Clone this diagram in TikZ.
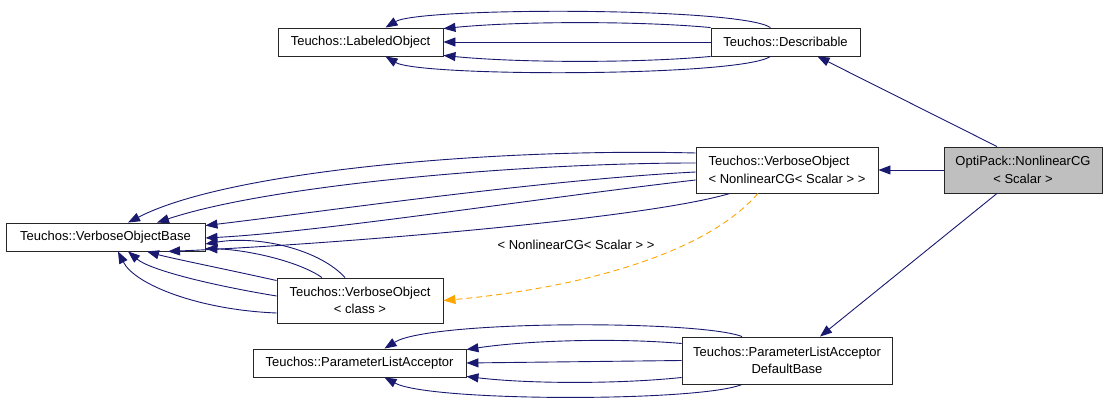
\documentclass[tikz,border=0pt]{standalone}
\usepackage{fontspec}
\setmainfont{Liberation Sans}
\usetikzlibrary{arrows.meta}

\definecolor{edgeblue}{HTML}{191970}
\definecolor{tmplorange}{HTML}{FFA500}
\definecolor{curgray}{HTML}{BFBFBF}

\begin{document}
\begin{tikzpicture}[x=1pt, y=-1pt, >={Triangle[length=12pt, width=9pt]},
  cls/.style={draw=black!85, fill=white, line width=0.9pt, inner sep=0pt, minimum height=28pt, align=center, font=\fontsize{13}{17.5}\selectfont},
  inh/.style={->, draw=edgeblue, line width=0.9pt},
  tmpl/.style={->, draw=tmplorange, line width=0.9pt, dash pattern=on 6pt off 4pt}]

\useasboundingbox (0,0) rectangle (1109,403);

% Nodes
\node (lab) [cls, minimum width=165pt] at (360.5,42) {Teuchos::LabeledObject};
\node (desc) [cls, minimum width=149pt] at (785.5,42) {Teuchos::Describable};
\node (vob) [cls, minimum width=199pt] at (105.5,237) {Teuchos::VerboseObjectBase};
\node (vonl) [cls, minimum width=182pt, minimum height=46pt, align=left] at (787,170) {Teuchos::VerboseObject\\< NonlinearCG< Scalar > >};
\node (ncg) [cls, fill=curgray, minimum width=158pt, minimum height=46pt] at (1023,170) {OptiPack::NonlinearCG\\< Scalar >};
\node (voc) [cls, minimum width=166pt, minimum height=45pt] at (360,300.5) {Teuchos::VerboseObject\\< class >};
\node (pla) [cls, minimum width=213pt] at (359.5,363) {Teuchos::ParameterListAcceptor};
\node (dfb) [cls, minimum width=210pt, minimum height=47pt] at (787,360.5) {Teuchos::ParameterListAcceptor\\DefaultBase};
\node (tlbl) [font=\fontsize{13}{15}\selectfont] at (576,245) {< NonlinearCG< Scalar > >};

% Arrows
\draw[inh] ([xshift=-15pt]desc.north) .. controls (740,7) and (420,7) .. ([xshift=25pt]lab.north);
\draw[inh] (desc.north west) .. controls (640,21) and (520,21) .. ([yshift=-1pt]lab.north east);
\draw[inh] (desc.west) -- (lab.east);
\draw[inh] (desc.south west) .. controls (640,63) and (520,63) .. ([yshift=1pt]lab.south east);
\draw[inh] ([xshift=-15pt]desc.south) .. controls (740,77) and (420,77) .. ([xshift=25pt]lab.south);

\draw[inh] ([xshift=-26pt]ncg.north) -- ([xshift=32pt]desc.south);
\draw[inh] (ncg.west) -- (vonl.east);
\draw[inh] ([xshift=-26pt]ncg.south) -- ([xshift=33pt]dfb.north);

\draw[inh] ([yshift=17pt]vonl.west) .. controls (500,148) and (230,170) .. ([xshift=22.5pt]vob.north);
\draw[inh] ([yshift=7pt]vonl.west) .. controls (520,163) and (270,185) .. ([xshift=51.5pt]vob.north);
\draw[inh] ([yshift=-2pt]vonl.west) .. controls (540,180) and (320,212) .. ([yshift=-3pt]vob.north east);
\draw[inh] ([yshift=-10pt]vonl.west) .. controls (540,198) and (320,232) .. ([yshift=-1pt]vob.east);
\draw[inh] ([xshift=-57pt]vonl.south) .. controls (640,220) and (320,245) .. ([xshift=62.5pt]vob.south);

\draw[inh] ([xshift=-15pt]voc.north) .. controls (320,250) and (260,235) .. ([yshift=-7pt]vob.east);
\draw[inh] ([xshift=-38pt]voc.north) .. controls (300,262) and (250,250) .. ([yshift=3pt]vob.south east);
\draw[inh] ([yshift=20pt]voc.west) .. controls (220,268) and (170,258) .. ([xshift=41.5pt]vob.south);
\draw[inh] ([yshift=4.5pt]voc.west) .. controls (210,285) and (150,270) .. ([xshift=22.5pt]vob.south);
\draw[inh] ([yshift=-12.5pt]voc.west) .. controls (200,310) and (135,285) .. ([xshift=12.5pt]vob.south);

\draw[tmpl] ([xshift=-29pt]vonl.south) .. controls (700,260) and (560,290) .. (voc.east);

\draw[inh] ([xshift=-45pt]dfb.north) .. controls (700,320) and (430,320) .. ([xshift=25pt]pla.north);
\draw[inh] ([yshift=17pt]dfb.west) .. controls (620,338) and (530,340) .. ([yshift=-1pt]pla.north east);
\draw[inh] (dfb.west) -- (pla.east);
\draw[inh] ([yshift=-17pt]dfb.west) .. controls (620,384) and (530,384) .. ([yshift=1pt]pla.south east);
\draw[inh] ([xshift=-45pt]dfb.south) .. controls (700,402) and (430,402) .. ([xshift=25pt]pla.south);

\end{tikzpicture}
\end{document}
